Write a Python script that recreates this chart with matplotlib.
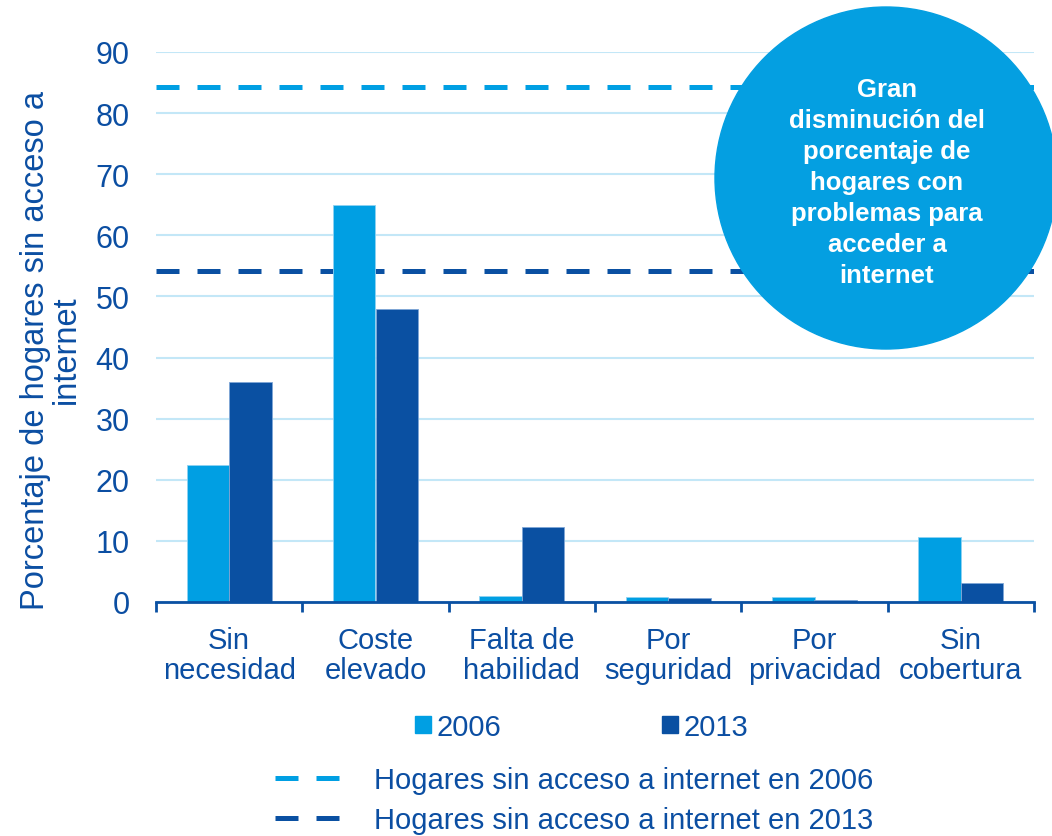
import matplotlib
matplotlib.use("Agg")
import numpy as np
import matplotlib.pyplot as plt
from matplotlib.patches import Circle, Patch
from matplotlib.lines import Line2D

plt.rcParams['font.family'] = ['Liberation Sans', 'DejaVu Sans']

categories = ['Sin\nnecesidad', 'Coste\nelevado', 'Falta de\nhabilidad', 'Por\nseguridad', 'Por\nprivacidad', 'Sin\ncobertura']
values2006 = [22.4, 65.0, 1.0, 0.8, 0.8, 10.6]
values2013 = [36.0, 48.0, 12.3, 0.6, 0.4, 3.1]
total2006 = 84.3
total2013 = 54.2
yticks = [0, 10, 20, 30, 40, 50, 60, 70, 80, 90]

light = '#009FE3'
dark = '#0A50A2'
textc = '#0B4EA2'
gridc = '#C3E7F7'
fs = 21

fig = plt.figure(figsize=(10.52, 8.37), dpi=100)
ax = fig.add_axes([156 / 1052, 1 - 603 / 837, (1034 - 156) / 1052, 550 / 837])

x = np.arange(len(categories))
w = 0.29
ax.bar(x - w / 2, values2006, w, color=light, edgecolor='#8fd2f2', linewidth=0.6, zorder=3)
ax.bar(x + w / 2, values2013, w, color=dark, edgecolor='#7fa6d6', linewidth=0.6, zorder=3)

ax.axhline(total2006, color=light, lw=3.6, linestyle=(0, (4.6, 3.6)), zorder=2)
ax.axhline(total2013, color=dark, lw=3.6, linestyle=(0, (4.6, 3.6)), zorder=2)

ax.set_xlim(-0.5, len(categories) - 0.5)
ax.set_ylim(0, 90)
ax.set_yticks(yticks)
ax.yaxis.grid(True, color=gridc, lw=1.5, zorder=0)
ax.set_axisbelow(True)
for s in ['top', 'right', 'left']:
    ax.spines[s].set_visible(False)
ax.spines['bottom'].set_color(dark)
ax.spines['bottom'].set_linewidth(2)
ax.spines['bottom'].set_zorder(4)

ax.set_xticks(x)
ax.set_xticklabels(categories, fontsize=fs, color=textc, linespacing=1.1)
ax.set_xticks(np.arange(-0.5, len(categories)), minor=True)
ax.tick_params(axis='x', which='major', length=0, pad=17)
ax.tick_params(axis='x', which='minor', length=7, width=2, color=dark, direction='out')
ax.tick_params(axis='y', length=0, pad=19, labelsize=fs + 1, labelcolor=textc)

fig.text(51 / 1052, 1 - 350 / 837, 'Porcentaje de hogares sin acceso a\ninternet',
         rotation=90, ha='center', va='center', fontsize=23.5, color=textc,
         multialignment='center', linespacing=1.0)

# circle annotation
circ = Circle((8.86, (837 - 179) / 100), 1.71, transform=fig.dpi_scale_trans,
              color='#049FE1', zorder=10, clip_on=False)
ax.add_patch(circ)
ax.text(8.87, (837 - 183) / 100,
        'Gran\ndisminución del\nporcentaje de\nhogares con\nproblemas para\nacceder a\ninternet',
        transform=fig.dpi_scale_trans, ha='center', va='center', color='white',
        fontsize=18.5, fontweight='bold', linespacing=1.37, zorder=11)

# legends
bar_handles = [Patch(color=light), Patch(color=dark)]
leg1 = fig.legend(bar_handles, ['2006', '2013'], loc='center left',
                  bbox_to_anchor=(415 / 1052, 1 - 728 / 837), ncol=2, frameon=False,
                  fontsize=fs, handlelength=0.55, handleheight=0.55, handletextpad=0.2,
                  columnspacing=5.5, borderpad=0, borderaxespad=0)
for t in leg1.get_texts():
    t.set_color(textc)

line_handles = [Line2D([], [], color=light, lw=3.6, linestyle=(0, (4.6, 3.6))),
                Line2D([], [], color=dark, lw=3.6, linestyle=(0, (4.6, 3.6)))]
leg2 = fig.legend(line_handles, ['Hogares sin acceso a internet en 2006',
                                 'Hogares sin acceso a internet en 2013'],
                  loc='center left', bbox_to_anchor=(275 / 1052, 1 - 801 / 837),
                  frameon=False, fontsize=fs, handlelength=2.2, handletextpad=1.2,
                  labelspacing=0.42, borderpad=0, borderaxespad=0)
for t in leg2.get_texts():
    t.set_color(textc)

fig.savefig('out.png', dpi=100)
